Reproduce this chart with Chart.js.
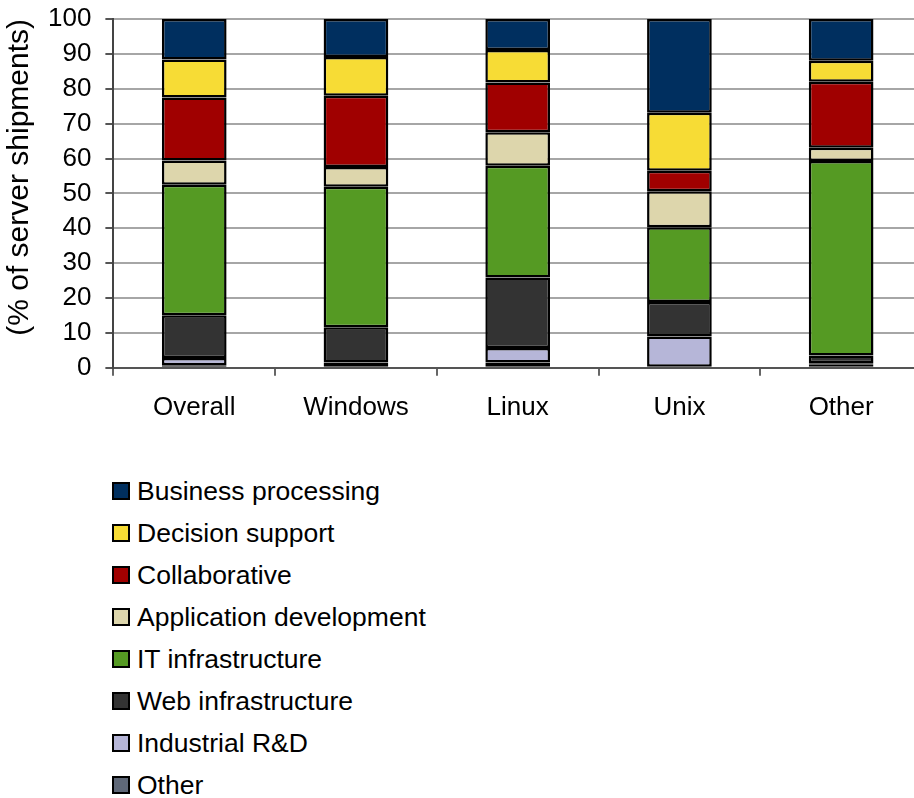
<!DOCTYPE html>
<html>
<head>
<meta charset="utf-8">
<script src="https://cdn.jsdelivr.net/npm/chart.js@4.4.1/dist/chart.umd.min.js"></script>
<style>
  body { margin: 0; background: #fff; overflow: hidden; width: 914px; height: 798px; position: relative; }
  #wrap { position: absolute; left: 0; top: 0; width: 922px; height: 439px; }
  #legend { position: absolute; left: 112px; top: 470px; font-family: "Liberation Sans", Arial, sans-serif; font-size: 26.5px; color: #000; }
  .item { height: 42px; display: flex; align-items: center; }
  .box { width: 14px; height: 14px; border: 2px solid #000; margin-right: 7px; }
</style>
</head>
<body>
<div id="wrap"><canvas id="bar_chart_workload"></canvas></div>
<div id="legend"></div>
<script>
var categories = ["Overall", "Windows", "Linux", "Unix", "Other"];

// bottom of the stack first
var otherWorkload = [0.7, 0.5, 1.5, 0.3, 1.0];
var industrialRD = [2.1, 1.0, 4.2, 8.7, 0.3];
var webInfrastructure = [12.3, 10.1, 20.2, 9.9, 2.2];
var itInfrastructure = [37.4, 40.3, 32.0, 21.4, 55.8];
var applicationDevelopment = [6.9, 5.7, 9.6, 10.3, 3.8];
var collaborative = [18.1, 20.4, 14.3, 5.9, 18.9];
var decisionSupport = [10.9, 11.1, 9.3, 16.6, 6.0];
var businessProcessing = [11.6, 10.9, 8.9, 26.9, 12.0];

var yTicks = [0, 10, 20, 30, 40, 50, 60, 70, 80, 90, 100];

function makeSet(label, values, color) {
  return {
    label: label,
    data: values,
    backgroundColor: color,
    borderColor: '#000',
    borderWidth: 2.5,
    borderSkipped: false,
    barPercentage: 0.4,
    categoryPercentage: 1.0
  };
}

function load() {
  var datasets = [
    makeSet('Other', otherWorkload, '#5f6878'),
    makeSet('Industrial R&D', industrialRD, '#b6b6d8'),
    makeSet('Web infrastructure', webInfrastructure, '#333333'),
    makeSet('IT infrastructure', itInfrastructure, '#559a23'),
    makeSet('Application development', applicationDevelopment, '#ddd6ac'),
    makeSet('Collaborative', collaborative, '#a00000'),
    makeSet('Decision support', decisionSupport, '#f7dc35'),
    makeSet('Business processing', businessProcessing, '#002f5f')
  ];

  var family = '"Liberation Sans", Arial, sans-serif';

  var config = {
    type: 'bar',
    data: { labels: categories, datasets: datasets },
    options: {
      responsive: true,
      maintainAspectRatio: false,
      animation: false,
      layout: { padding: 0 },
      plugins: { legend: { display: false }, tooltip: { enabled: false } },
      scales: {
        x: {
          stacked: true,
          grid: { drawOnChartArea: false, drawTicks: true, tickLength: 8, tickColor: '#666', lineWidth: 2 },
          border: { color: '#555', width: 2 },
          ticks: { color: '#000', font: { family: family, size: 26 }, padding: 16 }
        },
        y: {
          stacked: true,
          min: 0,
          max: 100,
          afterBuildTicks: function (axis) {
            axis.ticks = yTicks.map(function (v) { return { value: v }; });
          },
          // tick padding is added to the top gap too; keep the plot top at 19px
          afterFit: function (axis) {
            axis.paddingTop = 19;
          },
          grid: { color: '#a6a6a6', lineWidth: 2, tickLength: 8, tickColor: '#555' },
          border: { color: '#444', width: 2 },
          ticks: { color: '#000', font: { family: family, size: 26, lineHeight: 1.0 }, padding: 14 },
          title: {
            display: true,
            text: '(% of server shipments)',
            align: 'end',
            color: '#000',
            font: { family: family, size: 30 },
            padding: { top: 2, bottom: -4 }
          }
        }
      }
    }
  };

  new Chart(document.getElementById('bar_chart_workload').getContext('2d'), config);

  var legend = document.getElementById('legend');
  for (var i = datasets.length - 1; i >= 0; i--) {
    var row = document.createElement('div');
    row.className = 'item';
    var box = document.createElement('span');
    box.className = 'box';
    box.style.background = datasets[i].backgroundColor;
    var txt = document.createElement('span');
    txt.textContent = datasets[i].label;
    row.appendChild(box);
    row.appendChild(txt);
    legend.appendChild(row);
  }
}

document.addEventListener('DOMContentLoaded', load, false);
</script>
</body>
</html>
